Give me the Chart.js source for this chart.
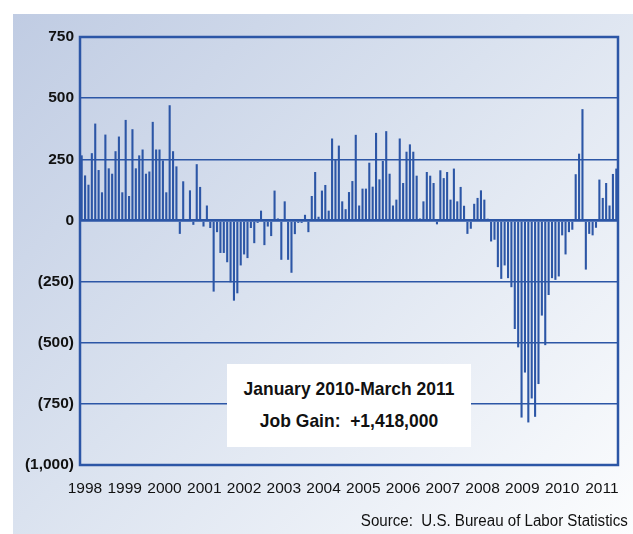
<!DOCTYPE html>
<html>
<head>
<meta charset="utf-8">
<script src="https://cdn.jsdelivr.net/npm/chart.js@4.4.1/dist/chart.umd.min.js"></script>
<style>
  html, body { margin: 0; padding: 0; background: #ffffff; }
  #wrap { position: relative; width: 633px; height: 534px; overflow: hidden; }
  #panel { position: absolute; left: 13px; top: 14px; right: 0; bottom: 0;
    background: linear-gradient(135deg, #c0cce3 0%, #dae2ef 45%, #fcfdfe 100%); }
  #chart { position: absolute; left: 0; top: 0; }
  #note { position: absolute; left: 227px; top: 364px; width: 244px; height: 83px; background: #ffffff;
    font-family: "Liberation Sans", Arial, sans-serif; font-weight: bold; font-size: 19px; color: #111; }
  #note div { position: absolute; left: 0; width: 100%; text-align: center; white-space: pre; transform: scaleX(0.92); }
  #source { position: absolute; right: 5px; top: 512px; font-family: "Liberation Sans", Arial, sans-serif;
    font-size: 16px; color: #111; white-space: pre; transform: scaleX(0.944); transform-origin: right center; }
</style>
</head>
<body>
<div id="wrap">
  <div id="panel"></div>
  <canvas id="chart" width="633" height="534"></canvas>
  <div id="note"><div style="top:14px">January 2010-March 2011</div><div style="top:46px">Job Gain:  +1,418,000</div></div>
  <div id="source">Source:  U.S. Bureau of Labor Statistics</div>
</div>
<script>
// Monthly change in nonfarm payroll employment (thousands)
const yearLabels = ['1998','1999','2000','2001','2002','2003','2004','2005','2006','2007','2008','2009','2010','2011'];
const jobs1998 = [266, 184, 146, 275, 396, 206, 115, 351, 213, 191, 283, 343];
const jobs1999 = [115, 411, 100, 373, 213, 266, 290, 191, 200, 403, 290, 290];
const jobs2000 = [245, 115, 471, 283, 221, -55, 160, 0, 123, -18, 230, 137];
const jobs2001 = [-25, 61, -31, -291, -48, -133, -133, -171, -253, -328, -298, -184];
const jobs2002 = [-139, -154, -31, -93, -10, 40, -101, -25, -64, 122, 8, -161];
const jobs2003 = [78, -161, -214, -56, -10, -10, 23, -48, 100, 198, 15, 122];
const jobs2004 = [145, 40, 335, 250, 306, 78, 46, 116, 161, 350, 61, 130];
const jobs2005 = [130, 236, 138, 358, 168, 243, 365, 191, 61, 85, 335, 153];
const jobs2006 = [281, 311, 281, 183, 8, 78, 198, 183, 153, -16, 205, 173];
const jobs2007 = [198, 85, 212, 78, 137, 60, -55, -34, 68, 92, 123, 85];
const jobs2008 = [7, -86, -79, -191, -239, -184, -236, -273, -444, -519, -806, -622];
const jobs2009 = [-826, -728, -803, -669, -389, -510, -305, -236, -243, -229, -61, -139];
const jobs2010 = [-48, -38, 189, 273, 455, -201, -55, -61, -30, 167, 92, 153];
const jobs2011 = [61, 190, 212];
const monthNames = ['Jan','Feb','Mar','Apr','May','Jun','Jul','Aug','Sep','Oct','Nov','Dec'];
const yTickValues = [750, 500, 250, 0, -250, -500, -750, -1000];

const allYears = [jobs1998, jobs1999, jobs2000, jobs2001, jobs2002, jobs2003, jobs2004,
  jobs2005, jobs2006, jobs2007, jobs2008, jobs2009, jobs2010, jobs2011];
const values = [];
const categories = [];
allYears.forEach((arr, yi) => arr.forEach((v, mi) => {
  values.push(v);
  categories.push(monthNames[mi] + ' ' + yearLabels[yi]);
}));

const BLUE = '#2c56a6';

function fmt(v) {
  const s = Math.abs(v).toLocaleString('en-US');
  return v < 0 ? '(' + s + ')' : s;
}

const frame = {
  id: 'frame',
  afterDatasetsDraw(chart) {
    const a = chart.chartArea, ctx = chart.ctx;
    ctx.save();
    ctx.strokeStyle = BLUE;
    ctx.lineWidth = 2.5;
    ctx.strokeRect(a.left, a.top, a.right - a.left, a.bottom - a.top);
    ctx.restore();
  }
};

Chart.defaults.font.family = '"Liberation Sans", Arial, sans-serif';
Chart.defaults.color = '#111111';

new Chart(document.getElementById('chart'), {
  type: 'bar',
  data: {
    labels: categories,
    datasets: [{
      data: values,
      backgroundColor: BLUE,
      borderWidth: 0,
      barPercentage: 0.62,
      categoryPercentage: 1.0
    }]
  },
  options: {
    responsive: false,
    devicePixelRatio: 1,
    animation: false,
    layout: { padding: { left: 0, right: 11, top: 37, bottom: 29 } },
    plugins: { legend: { display: false }, tooltip: { enabled: false } },
    scales: {
      x: {
        display: false,
        offset: true,
        grid: { display: false }
      },
      x2: {
        type: 'linear',
        axis: 'x',
        position: 'bottom',
        bounds: 'data',
        offset: false,
        min: 1997.875,
        max: 2011.405,
        grid: { display: false, drawTicks: false, offset: false },
        border: { display: false },
        afterFit(scale) { scale.height = 40; },
        afterBuildTicks(scale) { scale.ticks = yearLabels.map(y => ({ value: Number(y) })); },
        ticks: {
          autoSkip: false,
          maxRotation: 0,
          padding: 14,
          color: '#111111',
          font: { family: '"Liberation Sans", Arial', size: 15.5 },
          callback: (v) => String(v)
        }
      },
      y: {
        min: -1000,
        max: 750,
        afterFit(scale) { scale.width = 80; },
        afterBuildTicks(scale) { scale.ticks = yTickValues.map(v => ({ value: v })); },
        grid: {
          color: BLUE,
          drawTicks: false,
          lineWidth: (c) => (c.tick && c.tick.value === 0) ? 2.8 : 1.4
        },
        border: { display: false },
        ticks: {
          padding: 6,
          color: '#111111',
          font: { family: '"Liberation Sans", Arial', size: 15.5, weight: 'bold' },
          callback: (v) => fmt(v)
        }
      }
    }
  },
  plugins: [frame]
});
</script>
</body>
</html>
